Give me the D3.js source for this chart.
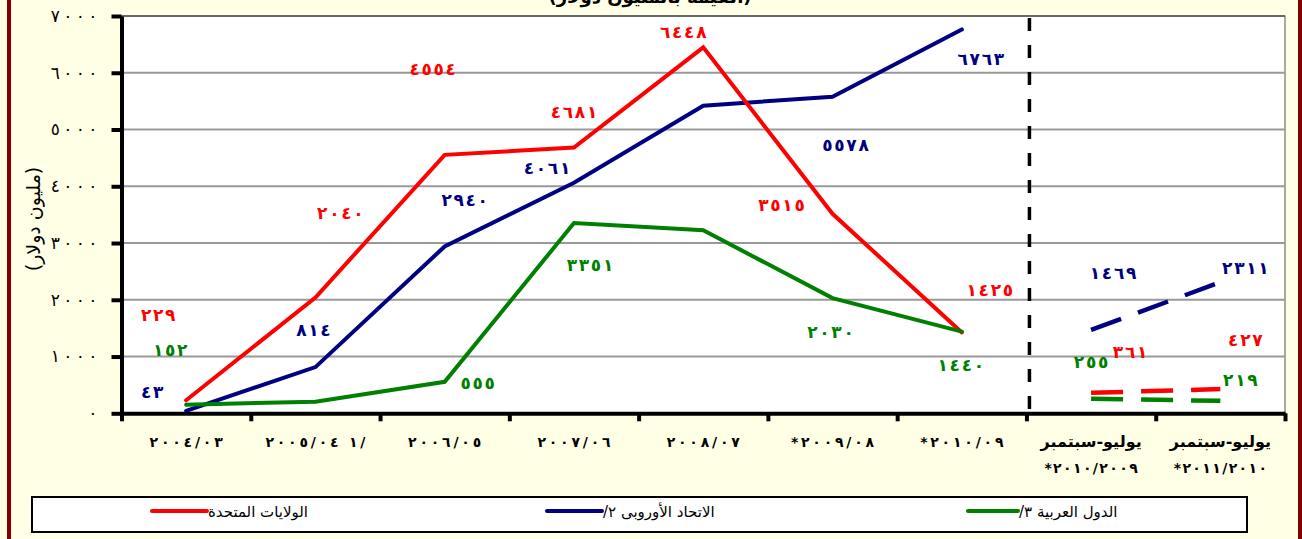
<!DOCTYPE html>
<html>
<head>
<meta charset="utf-8">
<script src="https://cdn.jsdelivr.net/npm/d3@7"></script>
<style>
    html, body { margin: 0; padding: 0; background: #ffffe6; }
    svg { display: block; }
    text { font-family: "DejaVu Sans", sans-serif; }
</style>
</head>
<body>
<div class="chart"></div>
<script>

//////////
// DATA //
//////////

var periodLine1 = ["٢٠٠٤/٠٣", "٢٠٠٥/٠٤ ١/", "٢٠٠٦/٠٥", "٢٠٠٧/٠٦", "٢٠٠٨/٠٧",
                   "*٢٠٠٩/٠٨", "*٢٠١٠/٠٩", "يوليو-سبتمبر", "يوليو-سبتمبر"];
var periodLine2 = ["", "", "", "", "", "", "", "*٢٠١٠/٢٠٠٩", "*٢٠١١/٢٠١٠"];

// annual values (first 7 periods), then the two July-September quarters
var usAnnual   = [229, 2040, 4554, 4681, 6448, 3515, 1425];
var usQuarter  = [361, 427];
var euAnnual   = [43, 814, 2940, 4061, 5420, 5578, 6763];
var euQuarter  = [1469, 2311];
var arabAnnual = [152, 205, 555, 3351, 3225, 2030, 1440];
var arabQuarter = [255, 219];

var seriesNames = ["الولايات المتحدة", "الاتحاد الأوروبى ٢/", "الدول العربية ٣/"];
var yTicks = [0, 1000, 2000, 3000, 4000, 5000, 6000, 7000];

var yTitle = "(مليون دولار)";
var chartTitle = "(القيمة بالمليون دولار)";

///////////////////////////
// LABEL PLACEMENT (px)  //
///////////////////////////

// offsets of each value label from its point, null = no label
var usLabelOff   = [[-28, -85], [25, -85], [-12, -86], [0, -36], [-20, -15], [-51, -9], [28, -42], [39, -41], [25, -49]];
var euLabelOff   = [[-34, -19], [-2, -37], [20, -46], [-27, -15], null, [13, 48], [19, 30], [22, -57], [25, -14]];
var arabLabelOff = [[-16, -55], null, [33, 1], [16, 42], null, [-2, 34], [-1, 33], [0, -37], [20, -21]];

//////////////////////
// INITIAL SETTINGS //
//////////////////////

var W = 1302, H = 539;
var plotL = 121.5, plotR = 1285, plotT = 16, plotB = 413.3;

var colors = ["#ff0000", "#000080", "#008000"];

var arabicDigits = "٠١٢٣٤٥٦٧٨٩";
function toArabic(n) {
    return String(n).replace(/\d/g, function(d) { return arabicDigits[+d]; });
}
// force left-to-right order, optional gap between characters
// (letter-spacing is ignored on Arabic-script runs)
function ltr(s, gap) {
    return "\u202D" + (gap ? s.split('').join(gap) : s) + "\u202C";
}
function rtl(s) { return "\u202B" + s + "\u202C"; }

var HAIR = "\u200A", THIN = "\u2009";

var svg = d3.select('.chart')
    .append('svg')
    .attr('width', W)
    .attr('height', H);

svg.append('rect')
    .attr('width', W)
    .attr('height', H)
    .attr('fill', '#ffffe6');

// frame sides
svg.append('rect').attr('x', 7).attr('y', 0).attr('width', 4).attr('height', H).attr('fill', '#800000');
svg.append('rect').attr('x', 1298).attr('y', 0).attr('width', 4).attr('height', H).attr('fill', '#800000');

// title, cut by the top edge as in the source
svg.append('text')
    .attr('x', 650)
    .attr('y', 3)
    .attr('text-anchor', 'middle')
    .style('font-size', '18px')
    .style('font-weight', 'bold')
    .text(chartTitle);

////////////
// SCALES //
////////////

var nPeriods = periodLine1.length;

var x = d3.scaleBand()
    .domain(d3.range(nPeriods))
    .range([plotL, plotR]);

var xEdge = d3.scaleLinear()
    .domain([0, nPeriods])
    .range([plotL, plotR]);

var y = d3.scaleLinear()
    .domain([0, 7000])
    .range([plotB, plotT]);

function cx(i) { return x(i) + x.bandwidth() / 2; }

///////////////
// PLOT AREA //
///////////////

svg.append('rect')
    .attr('x', plotL)
    .attr('y', plotT)
    .attr('width', plotR - plotL)
    .attr('height', plotB - plotT)
    .attr('fill', '#ffffff')
    .attr('stroke', '#555')
    .attr('stroke-width', 1);

svg.append('g')
    .selectAll('line')
    .data(yTicks.slice(1))
    .enter()
    .append('line')
    .attr('x1', plotL)
    .attr('x2', plotR)
    .attr('y1', function(d) { return y(d); })
    .attr('y2', function(d) { return y(d); })
    .attr('stroke', function(d) { return d === 7000 ? '#555' : '#999'; })
    .attr('stroke-width', function(d) { return d === 7000 ? 1.5 : 2; });

// separator between annual and quarterly data
svg.append('line')
    .attr('x1', xEdge(7) + 3)
    .attr('x2', xEdge(7) + 3)
    .attr('y1', plotT + 2)
    .attr('y2', plotB)
    .attr('stroke', '#000')
    .attr('stroke-width', 3.5)
    .attr('stroke-dasharray', '13,14');

//////////
// AXIS //
//////////

var yAxis = d3.axisLeft(y)
    .tickValues(yTicks)
    .tickSize(10)
    .tickSizeOuter(0)
    .tickPadding(14)
    .tickFormat(function(d) { return ltr(toArabic(d), THIN); });

var gy = svg.append('g')
    .attr('transform', 'translate(' + plotL + ',0)')
    .call(yAxis);

gy.select('.domain').attr('stroke', '#000').attr('stroke-width', 4);
gy.selectAll('.tick line').attr('stroke', '#000').attr('stroke-width', 4);
gy.selectAll('.tick text')
    .style('font-family', '"DejaVu Sans", sans-serif')
    .style('font-size', '17px')
    .attr('fill', '#000');

var xAxis = d3.axisBottom(xEdge)
    .tickValues(d3.range(nPeriods + 1))
    .tickSize(8)
    .tickSizeOuter(0)
    .tickFormat('');

var gx = svg.append('g')
    .attr('transform', 'translate(0,' + plotB + ')')
    .call(xAxis);

gx.select('.domain').attr('stroke', '#000').attr('stroke-width', 4);
gx.selectAll('.tick line').attr('stroke', '#000').attr('stroke-width', 4);

// category labels
var catG = svg.append('g')
    .style('font-weight', 'bold')
    .attr('text-anchor', 'middle');

catG.selectAll('.cat1')
    .data(periodLine1)
    .enter()
    .append('text')
    .attr('class', 'cat1')
    .attr('x', function(d, i) { return cx(i); })
    .attr('y', 447)
    .style('font-size', function(d, i) { return i < 7 ? '14px' : '16px'; })
    .text(function(d, i) { return i < 7 ? ltr(d, THIN) : d; });

catG.selectAll('.cat2')
    .data(periodLine2)
    .enter()
    .append('text')
    .attr('class', 'cat2')
    .attr('x', function(d, i) { return cx(i); })
    .attr('y', 473)
    .style('font-size', '14px')
    .text(function(d) { return d ? ltr(d, HAIR) : ''; });

// y title
svg.append('text')
    .attr('transform', 'translate(40,219) rotate(-90)')
    .attr('text-anchor', 'middle')
    .style('font-size', '19px')
    .text(yTitle);

///////////
// LINES //
///////////

var series = [
    { annual: usAnnual, quarter: usQuarter, off: usLabelOff, color: colors[0] },
    { annual: euAnnual, quarter: euQuarter, off: euLabelOff, color: colors[1] },
    { annual: arabAnnual, quarter: arabQuarter, off: arabLabelOff, color: colors[2] }
];

var line = d3.line()
    .x(function(d) { return cx(d.i); })
    .y(function(d) { return y(d.v); });

function toPts(values, start) {
    return values.map(function(v, k) { return { i: start + k, v: v }; });
}

// draw order: blue, red, green
[1, 0, 2].forEach(function(k) {
    var s = series[k];

    svg.append('path')
        .datum(toPts(s.annual, 0))
        .attr('d', line)
        .attr('fill', 'none')
        .attr('stroke', s.color)
        .attr('stroke-width', 4)
        .attr('stroke-linecap', 'round');

    svg.append('path')
        .datum(toPts(s.quarter, 7))
        .attr('d', line)
        .attr('fill', 'none')
        .attr('stroke', s.color)
        .attr('stroke-width', 4.5)
        .attr('stroke-dasharray', '32,18');
});

////////////
// LABELS //
////////////

series.forEach(function(s) {
    var pts = toPts(s.annual, 0).concat(toPts(s.quarter, 7));
    svg.append('g')
        .selectAll('text')
        .data(pts.filter(function(p) { return s.off[p.i]; }))
        .enter()
        .append('text')
        .attr('x', function(p) { return cx(p.i) + s.off[p.i][0]; })
        .attr('y', function(p) { return y(p.v) + s.off[p.i][1] + 6; })
        .attr('text-anchor', 'middle')
        .attr('fill', s.color)
        .style('font-size', '17px')
        .style('font-weight', 'bold')
        .text(function(p) { return ltr(toArabic(p.v), HAIR); });
});

////////////
// LEGEND //
////////////

svg.append('rect')
    .attr('x', 32)
    .attr('y', 497)
    .attr('width', 1215)
    .attr('height', 35)
    .attr('fill', '#fff')
    .attr('stroke', '#000')
    .attr('stroke-width', 2);

var legendX = [[152, 207], [547, 602], [968, 1018]];

var legend = svg.append('g')
    .selectAll('g')
    .data(seriesNames)
    .enter()
    .append('g');

legend.append('line')
    .attr('x1', function(d, i) { return legendX[i][0]; })
    .attr('x2', function(d, i) { return legendX[i][1]; })
    .attr('y1', 511)
    .attr('y2', 511)
    .attr('stroke', function(d, i) { return colors[i]; })
    .attr('stroke-width', 4)
    .attr('stroke-linecap', 'round');

legend.append('text')
    .attr('x', function(d, i) { return legendX[i][1] + 1; })
    .attr('y', 517)
    .style('font-size', '15px')
    .attr('fill', '#000')
    .text(function(d) { return rtl(d); });

</script>
</body>
</html>
